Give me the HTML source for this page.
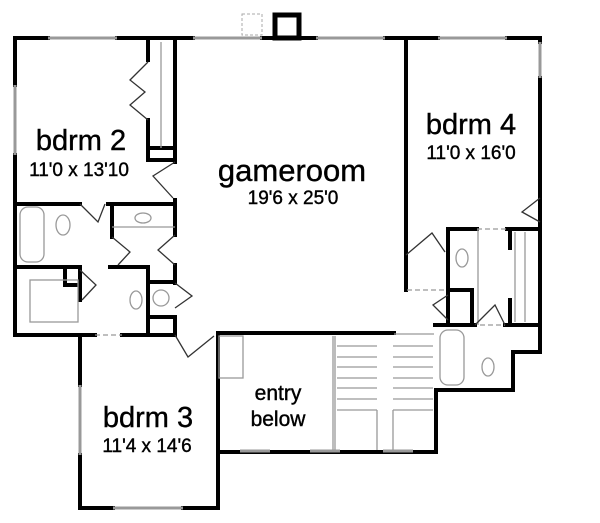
<!DOCTYPE html>
<html><head><meta charset="utf-8"><style>
html,body{margin:0;padding:0;background:#fff;width:600px;height:523px;overflow:hidden}
svg{display:block}
text{font-family:"Liberation Sans",Arial,sans-serif;fill:#000;text-anchor:middle;stroke:#000;stroke-width:0.4}
</style></head><body>
<svg width="600" height="523" viewBox="0 0 600 523" xmlns="http://www.w3.org/2000/svg">
<g stroke="#000" stroke-width="4" fill="none" stroke-linecap="square">
<path d="M15 38 H48 M117 38 H193 M262 38 H316 M385 38 H438 M507 38 H540"/>
<path d="M15 38 V85 M15 155 V335 H95 M122 335 H175"/>
<path d="M540 38 V42 M540 78 V352 H513 V390 H436 V452 H218 M540 198 V222"/>
<path d="M148 40 V60 M148 120 V160 H175 M175 38 V162 M148 148 H175"/>
<path d="M175 200 V235 M175 265 V283 M175 318 V335"/>
<path d="M15 204 H80 M108 204 H175 M112 204 V237"/>
<path d="M15 267 H80 M110 267 H148 M80 267 V300 M148 267 V335 M65 267 V285 H80 M148 282 H175 M148 317 H175"/>
<path d="M80 335 V385 M80 455 V508 H113 M183 508 H218 V333 H394"/>
<path d="M406 38 V290 M448 229 H477 M507 229 H538 M448 229 V325 M448 290 H472 V325 M435 325 H475 M505 325 H538 M510 229 V248 M510 300 V325"/>
</g>
<rect x="275" y="15" width="24" height="23" fill="none" stroke="#000" stroke-width="5"/>
<rect x="242" y="14" width="20" height="21" fill="none" stroke="#aaa" stroke-dasharray="3 2"/>
<g stroke="#999" stroke-width="3">
<path d="M48 38 H117 M193 38 H262 M316 38 H385 M438 38 H507 M540 42 V78 M15 85 V155 M80 385 V455 M113 508 H183 M240 451 H270 M310 451 H340 M383 451 H413"/>
</g>
<g stroke="#999" stroke-width="1.3" fill="none">
<path d="M394 334 H434"/>
<path d="M333 336 V450 M335 336 V450"/>
<path d="M337 346 H377 M337 357 H377 M337 367 H377 M337 378 H377 M337 388 H377 M337 399 H377 M337 410 H377"/>
<path d="M393 346 H433 M393 357 H433 M393 367 H433 M393 378 H433 M393 388 H433 M393 399 H433 M393 410 H433"/>
<path d="M377 410 V450 M393 410 V450"/>
<rect x="219" y="336" width="24" height="42"/>
<path d="M161 42 V148"/>
<path d="M515 232 V322 M525 232 V322"/>
<rect x="20" y="207" width="24" height="55" rx="8"/>
<ellipse cx="63" cy="225" rx="7" ry="10"/>
<ellipse cx="143" cy="218" rx="8" ry="5"/>
<path d="M112 227 H175"/>
<ellipse cx="136" cy="300" rx="6" ry="9"/>
<circle cx="161" cy="298" r="8"/>
<rect x="30" y="280" width="48" height="42"/>
<ellipse cx="462" cy="258" rx="6" ry="9"/>
<rect x="440" y="330" width="24" height="55" rx="8"/>
<ellipse cx="488" cy="367" rx="6" ry="9"/>
<path d="M478 229 V325"/>
<path d="M407 290 H445 M480 325 H505 M95 335 H122 M477 229 H507" stroke-dasharray="5 3"/>
</g>
<g stroke="#333" stroke-width="1.3" fill="none">
<path d="M148 62 L130 80 L145 92 L130 105 L148 120"/>
<path d="M175 162 L153 176 L173 198"/>
<path d="M80 204 L98 222 L105 204"/>
<path d="M112 237 L130 252 L118 265 M175 235 L158 250 L175 265"/>
<path d="M80 270 L96 285 L82 300 M175 283 L192 296 L175 308"/>
<path d="M175 335 L188 357 L214 336"/>
<path d="M540 198 L522 212 L540 222"/>
<path d="M406 255 L432 233 L445 252"/>
<path d="M448 295 L433 305 L448 320"/>
<path d="M475 325 L495 305 L505 325"/>
</g>
<text x="81" y="150" font-size="29">bdrm 2</text>
<text x="79" y="176" font-size="19">11'0 x 13'10</text>
<text x="292" y="181" font-size="31">gameroom</text>
<text x="293" y="204" font-size="19">19'6 x 25'0</text>
<text x="471" y="134" font-size="29">bdrm 4</text>
<text x="471" y="159" font-size="19">11'0 x 16'0</text>
<text x="148" y="427" font-size="29">bdrm 3</text>
<text x="147" y="452" font-size="19">11'4 x 14'6</text>
<text x="278" y="400" font-size="21">entry</text>
<text x="278" y="426" font-size="21">below</text>
</svg>
</body></html>
